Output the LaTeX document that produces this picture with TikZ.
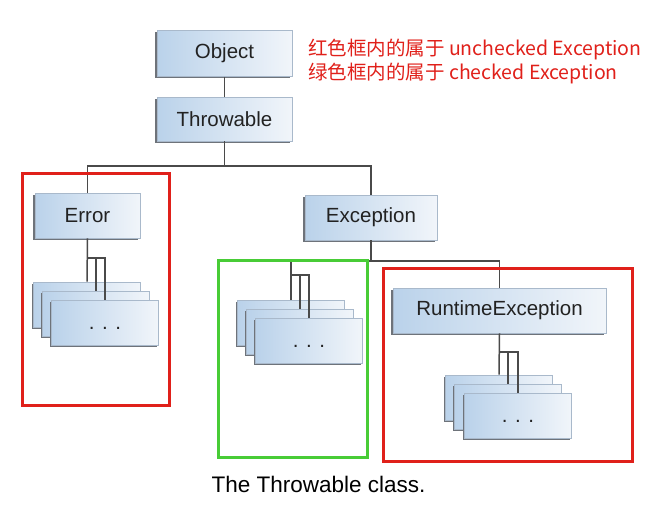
\documentclass[tikz,border=0pt]{standalone}
\usepackage{fontspec}
\setmainfont{Liberation Sans}
\newfontfamily\cjk{Noto Sans CJK SC}
\usetikzlibrary{shadows}
\definecolor{boxl}{HTML}{BAD2EA}
\definecolor{boxr}{HTML}{F1F5FA}
\definecolor{boxedge}{HTML}{A9B9CB}
\definecolor{shade}{HTML}{6E737A}
\definecolor{conn}{HTML}{4A4A4A}
\definecolor{txt}{HTML}{222222}
\definecolor{frred}{HTML}{E0201A}
\definecolor{frgreen}{HTML}{48CC36}
\tikzset{
  cls/.style={rectangle, draw=boxedge, line width=0.8pt, left color=boxl, right color=boxr,
    text=txt, font=\fontsize{20.5}{24}\selectfont, inner sep=0pt,
    general shadow={fill=shade, shadow xshift=-1.6pt, shadow yshift=-1.6pt}},
  card/.style={cls, minimum width=107pt, minimum height=45pt},
  link/.style={draw=conn, line width=1.5pt},
  frame/.style={line width=3pt},
  legend/.style={anchor=west, text=frred, font=\cjk\fontsize{19.5}{23}\selectfont, inner sep=0pt},
}
\begin{document}
\begin{tikzpicture}[x=1pt,y=-1pt]
\useasboundingbox (0,0) rectangle (664,512);
% main classes
\node[cls, minimum width=135pt, minimum height=46pt] (obj) at (224.5,53.5) {Object};
\node[cls, minimum width=135pt, minimum height=44pt] (thr) at (224.5,119) {Throwable};
\node[cls, minimum width=105pt, minimum height=45pt] (err) at (87.5,215.5) {Error};
\node[cls, minimum width=132pt, minimum height=45pt] (exc) at (371,217.5) {Exception};
\node[cls, minimum width=213pt, minimum height=45pt] (rte) at (499.5,310.5) {RuntimeException};
% error stack
\node[card] (e1) at (87,304.5) {};
\node[card] (e2) at (96,313.5) {};
\node[card] (e3) at (105,322.5) {\vphantom{A}. . .};
% checked stack
\node[card] (g1) at (291,322.5) {};
\node[card] (g2) at (300,331.5) {};
\node[card] (g3) at (309,340.5) {\vphantom{A}. . .};
% runtime stack
\node[card] (r1) at (499,397.5) {};
\node[card] (r2) at (508,407) {};
\node[card] (r3) at (518,415.5) {\vphantom{A}. . .};
% connectors
\coordinate (tb) at (224.5,166);
\coordinate (eb) at (371,261);
\draw[link] (obj.south) -- (thr.north);
\draw[link] (thr.south) -- (tb);
\draw[link] (err.north) |- (tb) -| (exc.north);
\draw[link] (exc.south) -- (eb);
\draw[link] (g1.north) |- (eb) -| (rte.north);
% error stack links
\draw[link] (err.south) -- (e1.north);
\draw[link] (err.south |- 0,258) -| (e2.north);
\draw[link] (e2.north |- 0,258) -| (e3.north);
% green stack links
\draw[link] (g1.north |- 0,275) -| (g2.north);
\draw[link] (g2.north |- 0,275) -| (g3.north);
% runtime stack links
\draw[link] (rte.south) -- (r1.north);
\draw[link] (r1.north |- 0,352) -| (r2.north);
\draw[link] (r2.north |- 0,352) -| (r3.north);
% frames
\draw[frame, draw=frred] (22,173.5) rectangle (169.5,405.5);
\draw[frame, draw=frgreen] (218.5,260.5) rectangle (367.5,457.5);
\draw[frame, draw=frred] (383.5,268.5) rectangle (632.5,461.5);
% legend
\node[legend] (l1) at (308,49.5) {红色框内的属于 unchecked Exception};
\node[legend] (l2) at (308,73.5) {绿色框内的属于 checked Exception};
% caption
\node[font=\fontsize{22.5}{26}\selectfont, text=black] (cap) at (318.5,484) {The Throwable class.};
\end{tikzpicture}
\end{document}
